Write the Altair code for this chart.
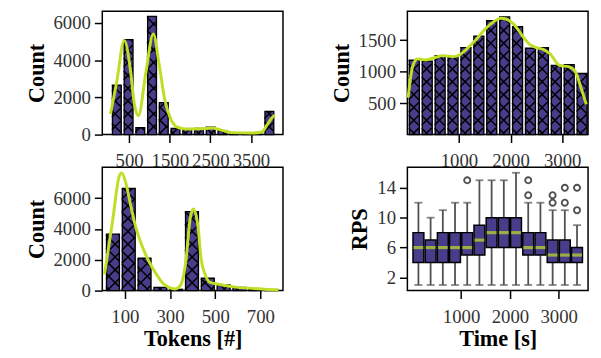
import math
import altair as alt
import pandas as pd

FONT = "Liberation Serif"
BAR = "#483d8b"
KDE = "#bddf26"
W, H = 183, 125

# ---------------- data ----------------
# top-left: input tokens histogram + KDE
in_edges = [40, 329, 618, 907, 1196, 1485, 1774, 2063, 2352, 2641, 2930, 3219, 3508, 3797, 4086]
in_counts = [2650, 5100, 370, 6350, 1715, 330, 320, 330, 400, 210, 45, 30, 30, 1250]
in_kde_x = [40, 189, 378, 541, 622, 728, 909, 1095, 1235, 1375, 1522, 1684, 1888, 2295, 2540,
            2786, 3031, 3520, 3765, 3888, 3995, 4086]
in_kde_y = [1105, 2770, 5050, 3295, 1715, 1015, 3295, 5400, 3820, 1895, 840, 400, 300, 315, 350,
            226, 105, 84, 137, 490, 840, 1050]

# top-right: request time histogram + KDE
time_edges = [0, 250, 500, 750, 1000, 1250, 1500, 1750, 2000, 2250, 2500, 2750, 3000, 3250, 3500]
time_counts = [1180, 1165, 1254, 1228, 1382, 1562, 1808, 1869, 1715, 1371, 1382, 1100, 1110, 971]
time_kde_x = [15, 99, 193, 351, 509, 699, 888, 983, 1142, 1332, 1522, 1680, 1806, 1870, 2059,
              2249, 2375, 2500, 2628, 2755, 2945, 3135, 3260, 3355, 3465]
time_kde_y = [586, 1074, 1202, 1186, 1217, 1254, 1238, 1254, 1355, 1509, 1689, 1795, 1848, 1843,
              1755, 1545, 1430, 1380, 1355, 1290, 1100, 1074, 990, 766, 480]

# bottom-left: output tokens histogram + KDE
out_edges = [10, 80, 150, 220, 290, 360, 430, 500, 570, 640, 710, 780]
out_counts = [3670, 6630, 2100, 210, 80, 5130, 800, 360, 210, 80, 40]
out_kde_x = [10, 45, 75, 86, 104, 126, 148, 177, 206, 235, 265, 294, 323, 345, 370, 389, 403,
             425, 437, 455, 477, 513, 572, 645, 718, 780]
out_kde_y = [1062, 4453, 7424, 7634, 6997, 5515, 4135, 2863, 1908, 1166, 530, 212, 106, 318,
             1908, 4663, 5300, 4027, 2100, 1060, 530, 420, 260, 160, 90, 50]

# bottom-right: RPS box plot per time bin
box_t = [125, 375, 625, 875, 1125, 1375, 1625, 1875, 2125, 2375, 2625, 2875, 3125, 3375]
box_q1 = [4, 4, 4, 4, 5, 5, 6, 6, 6, 5, 5, 4, 4, 4]
box_med = [6, 6, 6, 6, 6, 7, 8, 8, 8, 6, 6, 5, 5, 5]
box_q3 = [8, 7, 8, 8, 8, 9, 10, 10, 10, 8, 8, 7, 7, 6]
box_lo = [1, 1, 1, 1, 1, 1, 1, 1, 1, 1, 1, 1, 1, 1]
box_hi = [12, 10, 11, 12, 12, 15, 15, 15, 16, 12, 12, 11, 11, 9]
flier_t = [1125, 2375, 2375, 2875, 2875, 3125, 3125, 3375, 3375]
flier_v = [15, 13, 15, 12, 13, 12, 14, 11, 14]


# ---------------- helpers ----------------
def hatch_segments(edges, counts, xdom, ydom, d=13.0, inset=1.5):
    xs = W / (xdom[1] - xdom[0])
    ys = H / (ydom[1] - ydom[0])
    px = lambda v: (v - xdom[0]) * xs
    py = lambda v: (ydom[1] - v) * ys
    ix = lambda p: xdom[0] + p / xs
    iy = lambda p: ydom[1] - p / ys
    rows = []
    for i, c in enumerate(counts):
        x0, x1 = px(edges[i]) + inset, px(edges[i + 1]) - inset
        y0, y1 = py(c), py(0)
        if x1 <= x0 or y1 - y0 < 0.5:
            continue
        for s in (1, -1):
            if s == 1:
                cmin, cmax = y0 - x1, y1 - x0
            else:
                cmin, cmax = y0 + x0, y1 + x1
            k = math.ceil(cmin / d)
            while k * d <= cmax:
                cc = k * d
                if s == 1:
                    xa, xb = max(x0, y0 - cc), min(x1, y1 - cc)
                else:
                    xa, xb = max(x0, cc - y1), min(x1, cc - y0)
                if xb - xa > 0.2:
                    rows.append({"hx": ix(xa), "hx2": ix(xb),
                                 "hy": iy(s * xa + cc), "hy2": iy(s * xb + cc)})
                k += 1
    return pd.DataFrame(rows)


def hist_panel(edges, counts, kx, ky, xdom, ydom, xticks, yticks, xtitle):
    xsc = alt.Scale(domain=xdom, nice=False, zero=False)
    ysc = alt.Scale(domain=ydom, nice=False, zero=False)
    xax = alt.Axis(values=xticks, title=xtitle, format="d")
    yax = alt.Axis(values=yticks, title="Count", format="d")
    bars = pd.DataFrame({"x0": edges[:-1], "x1": edges[1:], "c": counts})
    b = alt.Chart(bars).mark_bar(fill=BAR, stroke="black", strokeWidth=1.4, binSpacing=3).encode(
        x=alt.X("x0:Q", bin="binned", scale=xsc, axis=xax, title=xtitle),
        x2="x1:Q",
        y=alt.Y("c:Q", scale=ysc, axis=yax, title="Count"),
    )
    hd = hatch_segments(edges, counts, xdom, ydom)
    h = alt.Chart(hd).mark_rule(color="black", strokeWidth=1.5).encode(
        x=alt.X("hx:Q", scale=xsc, axis=xax, title=xtitle),
        x2="hx2:Q",
        y=alt.Y("hy:Q", scale=ysc, axis=yax, title="Count"),
        y2="hy2:Q",
    )
    kd = pd.DataFrame({"kx": kx, "ky": ky})
    k = alt.Chart(kd).mark_line(color=KDE, strokeWidth=3, interpolate="monotone").encode(
        x=alt.X("kx:Q", scale=xsc, axis=xax, title=xtitle),
        y=alt.Y("ky:Q", scale=ysc, axis=yax, title="Count"),
    )
    return alt.layer(b, h, k).properties(width=W, height=H)


tl = hist_panel(in_edges, in_counts, in_kde_x, in_kde_y, [-162, 4289], [0, 6630],
                [500, 1500, 2500, 3500], [0, 2000, 4000, 6000], None)
tr = hist_panel(time_edges, time_counts, time_kde_x, time_kde_y, [0, 3500], [0, 1960],
                [1000, 2000, 3000], [500, 1000, 1500], None)
bl = hist_panel(out_edges, out_counts, out_kde_x, out_kde_y, [0, 800], [0, 8015],
                [100, 300, 500, 700], [0, 2000, 4000, 6000], "Tokens [#]")

# box plot panel
bx = pd.DataFrame({"t": box_t, "q1": box_q1, "med": box_med, "q3": box_q3,
                   "lo": box_lo, "hi": box_hi})
fl = pd.DataFrame({"t": flier_t, "v": flier_v})
bxs = alt.Scale(domain=[0, 3500], nice=False, zero=False)
bys = alt.Scale(domain=[0.25, 16.75], nice=False, zero=False)
bxa = alt.Axis(values=[1000, 2000, 3000], title="Time [s]", format="d")
bya = alt.Axis(values=[2, 6, 10, 14], title="RPS", format="d")
BX = alt.X("t:Q", scale=bxs, axis=bxa, title="Time [s]")
WH = "#505050"
w1 = alt.Chart(bx).mark_rule(color=WH, strokeWidth=1.8).encode(
    x=BX, y=alt.Y("lo:Q", scale=bys, axis=bya, title="RPS"), y2="q1:Q")
w2 = alt.Chart(bx).mark_rule(color=WH, strokeWidth=1.8).encode(
    x=BX, y=alt.Y("q3:Q", scale=bys, axis=bya, title="RPS"), y2="hi:Q")
c1 = alt.Chart(bx).mark_tick(color=WH, orient="horizontal", size=8, thickness=1.8).encode(
    x=BX, y=alt.Y("lo:Q", scale=bys, axis=bya, title="RPS"))
c2 = alt.Chart(bx).mark_tick(color=WH, orient="horizontal", size=8, thickness=1.8).encode(
    x=BX, y=alt.Y("hi:Q", scale=bys, axis=bya, title="RPS"))
box = alt.Chart(bx).mark_bar(fill=BAR, stroke="black", strokeWidth=1.5, size=11).encode(
    x=BX, y=alt.Y("q1:Q", scale=bys, axis=bya, title="RPS"), y2="q3:Q")
med = alt.Chart(bx).mark_tick(color=KDE, orient="horizontal", size=10, thickness=3.2).encode(
    x=BX, y=alt.Y("med:Q", scale=bys, axis=bya, title="RPS"))
fli = alt.Chart(fl).mark_point(shape="circle", filled=False, color=WH, strokeWidth=1.9, size=38,
                               opacity=1).encode(
    x=alt.X("t:Q", scale=bxs, axis=bxa, title="Time [s]"),
    y=alt.Y("v:Q", scale=bys, axis=bya, title="RPS"))
br = alt.layer(w1, w2, c1, c2, box, med, fli).properties(width=W, height=H)

chart = alt.concat(tl, tr, bl, br, columns=2,
                   spacing={"row": 33, "column": 126}, bounds="flush").properties(
    padding={"left": 16.5, "top": 0, "right": 0, "bottom": 0}
).configure(font=FONT).configure_view(
    stroke="black", strokeWidth=1.5
).configure_axis(
    domain=False, grid=False, ticks=True, tickSize=8, tickWidth=1.5, tickColor="black",
    labelFont=FONT, labelFontSize=19, labelColor="#333333",
    titleFont=FONT, titleFontSize=22.5, titleFontWeight="bold", titleColor="black",
    labelOverlap=False, labelFlush=False
).configure_axisX(labelPadding=9, titlePadding=2).configure_axisY(labelPadding=4, titlePadding=5)

chart.save("out.html", embed_options={"renderer": "svg", "actions": False})
